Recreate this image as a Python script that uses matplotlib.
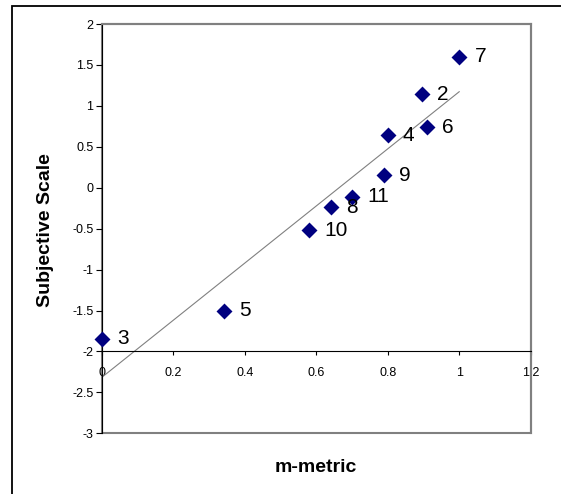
import numpy as np
import matplotlib
matplotlib.use("Agg")
import matplotlib.pyplot as plt
from matplotlib.patches import Rectangle

plt.rcParams['font.family'] = ['Liberation Sans', 'DejaVu Sans']

# puntos (m-metric vs escala subjetiva)
labels = ['2', '3', '4', '5', '6', '7', '8', '9', '10', '11']
m_metric = [0.895, 0.0, 0.80, 0.343, 0.91, 1.0, 0.64, 0.79, 0.58, 0.70]
subjective = [1.14, -1.845, 0.64, -1.50, 0.74, 1.60, -0.236, 0.153, -0.52, -0.11]

xticks = [0, 0.2, 0.4, 0.6, 0.8, 1, 1.2]
yticks = [-3, -2.5, -2, -1.5, -1, -0.5, 0, 0.5, 1, 1.5, 2]

fig = plt.figure(figsize=(5.61, 4.94), dpi=100)
ax = fig.add_axes([0.1813, 0.1229, 0.7647, 0.8285])

# marco exterior (cortado a la derecha y abajo)
fig.patches.append(Rectangle((12 / 561, -0.1), 1.2, 1 - 6 / 494 + 0.1,
                             transform=fig.transFigure, fill=False,
                             edgecolor='black', linewidth=1.3))

# linea de tendencia (regresion lineal)
slope, intercept = np.polyfit(m_metric, subjective, 1)
xs = np.array([min(m_metric), max(m_metric)])
ax.plot(xs, slope * xs + intercept, color='#808080', linewidth=0.8, zorder=2)

ax.scatter(m_metric, subjective, marker='D', s=66, color='#000080', zorder=3,
           linewidths=0, clip_on=False)
for lab, x, y in zip(labels, m_metric, subjective):
    ax.annotate(lab, (x, y), xytext=(11, 0), textcoords='offset points',
                ha='left', va='center', fontsize=15)

ax.set_xlim(0, 1.2)
ax.set_ylim(-3, 2)
ax.set_xticks(xticks)
ax.set_yticks(yticks)
ax.set_xticklabels(['0', '0.2', '0.4', '0.6', '0.8', '1', '1.2'])
ax.set_yticklabels(['-3', '-2.5', '-2', '-1.5', '-1', '-0.5', '0', '0.5', '1', '1.5', '2'])

# eje x cruza en y = -2 (estilo Excel)
ax.spines['bottom'].set_position(('data', -2))
ax.spines['bottom'].set_color('black')
ax.spines['left'].set_color('black')
ax.spines['top'].set_color('#808080')
ax.spines['right'].set_color('#808080')
for s in ['top', 'right']:
    ax.spines[s].set_linewidth(1.5)
ax.add_patch(Rectangle((0, 0), 1, 1, transform=ax.transAxes, fill=False,
                       edgecolor='#808080', linewidth=1.5, zorder=0.5, clip_on=False))

ax.tick_params(axis='x', direction='out', length=3, pad=8, labelsize=9, width=0.8)
ax.tick_params(axis='y', direction='out', length=4, pad=2, labelsize=9, width=0.8)

fig.text(0.5638, 1 - 468 / 494, 'm-metric', ha='center', va='center',
         fontsize=14, fontweight='bold')
fig.text(46 / 561, 1 - 230 / 494, 'Subjective Scale', ha='center', va='center',
         rotation=90, fontsize=14, fontweight='bold')

fig.savefig('out.png', dpi=100)
plt.close(fig)
